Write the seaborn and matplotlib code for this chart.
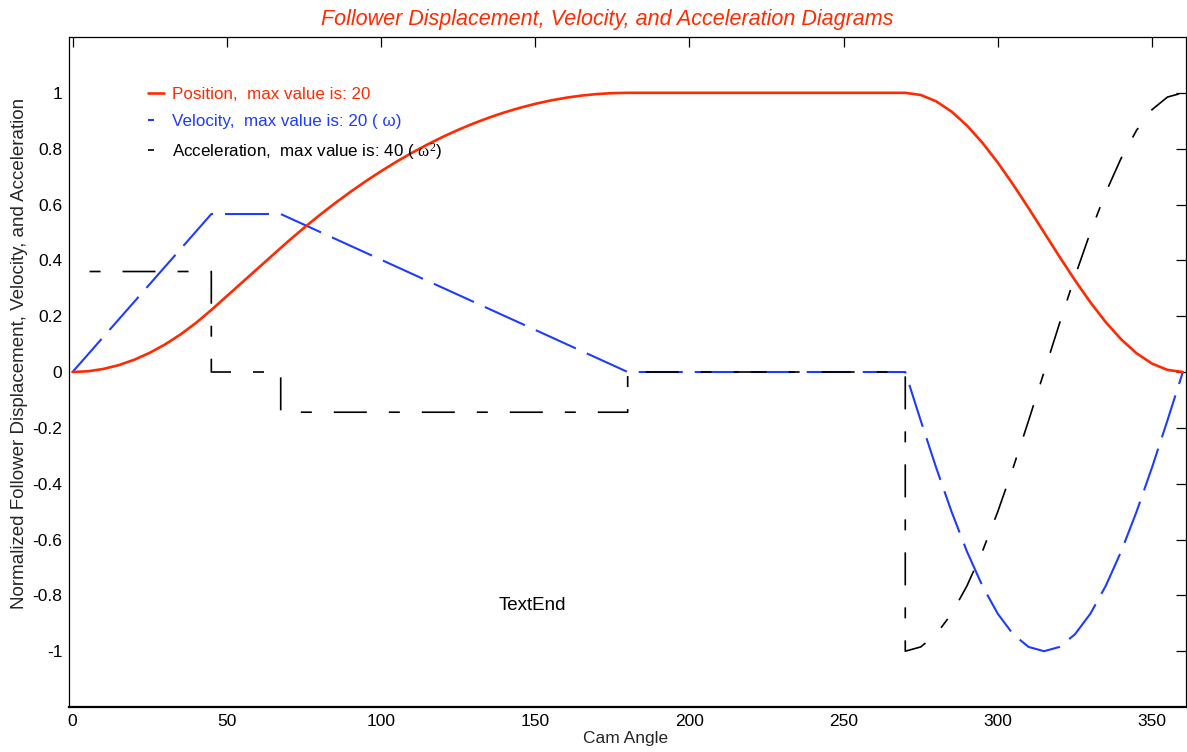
import matplotlib
matplotlib.use("Agg")
import matplotlib.pyplot as plt
import seaborn as sns
from matplotlib.lines import Line2D
from matplotlib.ticker import FuncFormatter, FixedLocator

# ---------------- data ----------------
angle = [0, 5, 10, 15, 20, 25, 30, 35, 40, 45, 50, 55, 60, 65, 67.5,
         70, 75, 80, 85, 90, 95, 100, 105, 110, 115, 120, 125, 130, 135, 140,
         145, 150, 155, 160, 165, 170, 175, 180,
         185, 190, 195, 200, 205, 210, 215, 220, 225, 230, 235, 240, 245, 250,
         255, 260, 265, 270,
         275, 280, 285, 290, 295, 300, 305, 310, 315, 320, 325, 330, 335, 340,
         345, 350, 355, 360]

position = [0.0, 0.0027, 0.0110, 0.0247, 0.0439, 0.0686, 0.0988, 0.1344, 0.1756,
            0.2222, 0.2716, 0.3210, 0.3704, 0.4198, 0.4444,
            0.4689, 0.5160, 0.5610, 0.6038, 0.6444, 0.6829, 0.7191, 0.7531, 0.7849,
            0.8145, 0.8420, 0.8672, 0.8903, 0.9111, 0.9298, 0.9462, 0.9605, 0.9726,
            0.9824, 0.9901, 0.9956, 0.9989, 1.0,
            1.0, 1.0, 1.0, 1.0, 1.0, 1.0, 1.0, 1.0, 1.0, 1.0, 1.0, 1.0, 1.0, 1.0,
            1.0, 1.0, 1.0, 1.0,
            0.9924, 0.9698, 0.9330, 0.8830, 0.8214, 0.7500, 0.6710, 0.5868, 0.5000,
            0.4132, 0.3290, 0.2500, 0.1786, 0.1170, 0.0670, 0.0302, 0.0076, 0.0]

velocity = [0.0, 0.0629, 0.1258, 0.1886, 0.2515, 0.3144, 0.3773, 0.4401, 0.5030,
            0.5659, 0.5659, 0.5659, 0.5659, 0.5659, 0.5659,
            0.5533, 0.5282, 0.5030, 0.4779, 0.4527, 0.4276, 0.4024, 0.3773, 0.3521,
            0.3270, 0.3018, 0.2767, 0.2515, 0.2264, 0.2012, 0.1761, 0.1509, 0.1258,
            0.1006, 0.0755, 0.0503, 0.0252, 0.0,
            0.0, 0.0, 0.0, 0.0, 0.0, 0.0, 0.0, 0.0, 0.0, 0.0, 0.0, 0.0, 0.0, 0.0,
            0.0, 0.0, 0.0, 0.0,
            -0.1736, -0.3420, -0.5000, -0.6428, -0.7660, -0.8660, -0.9397, -0.9848,
            -1.0, -0.9848, -0.9397, -0.8660, -0.7660, -0.6428, -0.5000, -0.3420,
            -0.1736, 0.0]

acc_angle = [0, 45, 45, 67.5, 67.5, 180, 180, 270, 270,
             275, 280, 285, 290, 295, 300, 305, 310, 315, 320, 325, 330, 335, 340,
             345, 350, 355, 360]
acceleration = [0.36, 0.36, 0.0, 0.0, -0.144, -0.144, 0.0, 0.0, -1.0,
                -0.9848, -0.9397, -0.8660, -0.7660, -0.6428, -0.5000, -0.3420,
                -0.1736, 0.0, 0.1736, 0.3420, 0.5000, 0.6428, 0.7660, 0.8660,
                0.9397, 0.9848, 1.0]

legend_labels = ["Position,  max value is: 20",
                 "Velocity,  max value is: 20 ( \u03c9)",
                 "Acceleration,  max value is: 40 ( $\\omega^2$)"]
x_ticks = [0, 50, 100, 150, 200, 250, 300, 350]
y_ticks = [-1, -0.8, -0.6, -0.4, -0.2, 0, 0.2, 0.4, 0.6, 0.8, 1]

title = "Follower Displacement, Velocity, and Acceleration Diagrams"
xlabel = "Cam Angle"
ylabel = "Normalized Follower Displacement, Velocity, and Acceleration"
note = "TextEnd"

RED = "#ff2a00"
BLUE = "#1e3cff"
BLACK = "#000000"

# ---------------- style ----------------
sns.set_theme(style="white")
plt.rcParams["font.family"] = ["Liberation Sans", "DejaVu Sans"]
plt.rcParams["mathtext.fontset"] = "custom"
plt.rcParams["mathtext.rm"] = "Liberation Serif"
plt.rcParams["mathtext.it"] = "Liberation Serif"
plt.rcParams["axes.unicode_minus"] = False
plt.rcParams["lines.scale_dashes"] = False

PX = 0.72  # points per pixel at dpi 100

fig = plt.figure(figsize=(11.87, 7.52), dpi=100)
ax = fig.add_axes([0.0585, 0.0598, 0.9406, 0.8910])

sns.lineplot(x=angle, y=velocity, ax=ax, color=BLUE, lw=1.5,
             estimator=None, sort=False, zorder=2)
ax.lines[-1].set_linestyle((0, (44 * PX, 12 * PX)))

sns.lineplot(x=acc_angle, y=acceleration, ax=ax, color=BLACK, lw=1.2,
             estimator=None, sort=False, zorder=3)
ax.lines[-1].set_linestyle((38 * PX, (33 * PX, 22 * PX, 11 * PX, 22 * PX)))

sns.lineplot(x=angle, y=position, ax=ax, color=RED, lw=1.9,
             estimator=None, sort=False, zorder=4)

ax.set_xlim(-1, 361)
ax.set_ylim(-1.2, 1.2)
ax.xaxis.set_major_locator(FixedLocator(x_ticks))
ax.yaxis.set_major_locator(FixedLocator(y_ticks))
ax.yaxis.set_major_formatter(FuncFormatter(lambda v, p: f"{v:g}"))
ax.tick_params(direction="in", length=7.5, width=0.9, top=True, right=True,
               labelsize=12.5, colors="black", pad=5)

for s in ax.spines.values():
    s.set_visible(True)
    s.set_color("black")
    s.set_linewidth(0.9)
ax.spines["bottom"].set_linewidth(1.6)

ax.set_title(title, color=RED, style="italic", fontsize=15.5, pad=8.5,
             x=0.482)
ax.set_xlabel(xlabel, fontsize=12.5)
ax.xaxis.set_label_coords(0.498, -0.036)
ax.set_ylabel(ylabel, fontsize=13.5)
ax.yaxis.set_label_coords(-0.037, 0.528)

ax.text(149, -0.836, note, fontsize=13.5, ha="center", va="center", color="black")

handles = [Line2D([], [], color=RED, lw=1.9),
           Line2D([], [], color=BLUE, lw=1.5, linestyle=(0, (6 * PX, 100))),
           Line2D([], [], color=BLACK, lw=1.2, linestyle=(0, (6 * PX, 100)))]
leg = ax.legend(handles, legend_labels, loc="upper left",
                bbox_to_anchor=(0.0705, 0.926), frameon=False, fontsize=12.25,
                handlelength=0.91, handletextpad=0.47, labelspacing=0.71,
                borderpad=0, borderaxespad=0,
                labelcolor=[RED, BLUE, BLACK])

fig.savefig("out.png", dpi=100, facecolor="white")
